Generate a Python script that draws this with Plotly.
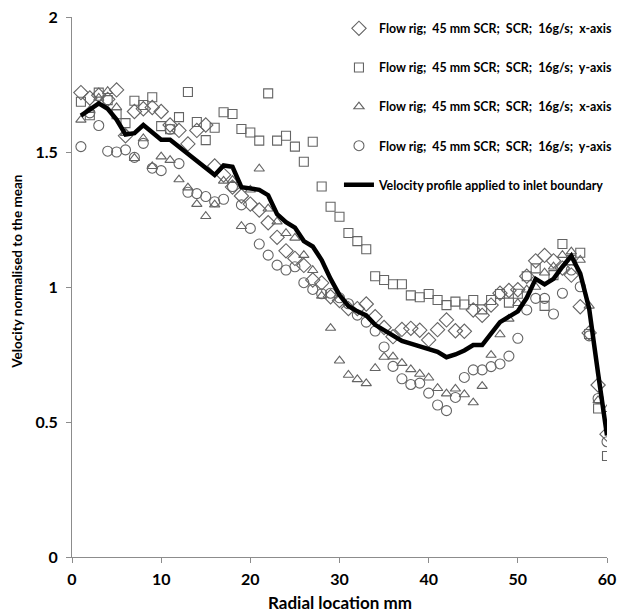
import plotly.graph_objects as go

radial_mm = list(range(1, 61))

diamond_x1 = [1.72, 1.70, 1.71, 1.695, 1.73, 1.56, 1.65, 1.66, 1.665, 1.65,
              1.60, 1.58, 1.53, 1.58, 1.60, 1.448, 1.415, 1.37, 1.337, 1.307,
              1.285, 1.238, 1.184, 1.134, 1.106, 1.08, 1.026, 1.015, 0.964, 0.95,
              0.92, 0.92, 0.937, 0.89, 0.85, 0.816, 0.843, 0.847, 0.84, 0.804,
              0.842, 0.878, 0.838, 0.836, 0.915, 0.895, 0.933, 0.977, 0.987, 0.99,
              1.04, 1.097, 1.117, 1.097, 1.07, 1.044, 0.927, 0.83, 0.637, 0.455]

square_y1 = [1.686, 1.636, 1.72, 1.692, 1.64, 1.607, 1.69, 1.674, 1.703, 1.596,
             1.584, 1.629, 1.722, 1.611, 1.544, 1.59, 1.647, 1.641, 1.585, 1.572,
             1.542, 1.717, 1.542, 1.56, 1.52, 1.464, 1.538, 1.372, 1.297, 1.26,
             1.20, 1.17, 1.14, 1.04, 1.026, 1.01, 1.01, 0.969, 0.962, 0.974,
             0.952, 0.933, 0.946, 0.935, 0.952, 0.917, 0.952, 0.974, 0.942, 0.975,
             1.04, 1.069, 0.93, 1.044, 1.159, 1.10, 1.127, 0.826, 0.55, 0.374]

triangle_x2 = [1.619, 1.655, 1.70, 1.725, 1.665, 1.57, 1.477, 1.55, 1.447, 1.483,
               1.47, 1.398, 1.368, 1.307, 1.262, 1.305, 1.393, 1.396, 1.225, 1.36,
               1.438, 1.29, 1.242, 1.199, 1.182, 1.118, 1.062, 0.967, 0.848, 0.727,
               0.674, 0.658, 0.643, 0.699, 0.741, 0.742, 0.718, 0.695, 0.678, 0.664,
               0.625, 0.605, 0.623, 0.602, 0.572, 0.633, 0.748, 0.824, 0.882, 0.94,
               0.99, 1.00, 1.053, 1.075, 1.118, 1.131, 1.10, 0.93, 0.58, 0.547]

circle_y2 = [1.52, 1.645, 1.598, 1.503, 1.50, 1.508, 1.48, 1.532, 1.44, 1.431,
             1.584, 1.457, 1.351, 1.346, 1.335, 1.316, 1.325, 1.372, 1.304, 1.217,
             1.159, 1.118, 1.081, 1.063, 1.075, 1.016, 0.991, 0.975, 0.977, 0.96,
             0.938, 0.896, 0.87, 0.837, 0.778, 0.706, 0.66, 0.639, 0.644, 0.607,
             0.563, 0.542, 0.591, 0.665, 0.693, 0.693, 0.705, 0.715, 0.744, 0.81,
             0.915, 0.958, 0.958, 0.90, 0.977, 1.063, 1.001, 0.819, 0.587, 0.427]

profile = [1.635, 1.66, 1.68, 1.66, 1.62, 1.565, 1.57, 1.60, 1.57, 1.545,
           1.545, 1.52, 1.49, 1.465, 1.44, 1.415, 1.45, 1.445, 1.37, 1.365,
           1.36, 1.34, 1.27, 1.24, 1.22, 1.17, 1.15, 1.10, 1.03, 0.97,
           0.93, 0.91, 0.895, 0.86, 0.84, 0.82, 0.80, 0.79, 0.78, 0.77,
           0.76, 0.74, 0.75, 0.765, 0.785, 0.785, 0.83, 0.87, 0.89, 0.91,
           0.96, 1.03, 1.01, 1.03, 1.075, 1.115, 1.05, 0.92, 0.68, 0.45]

x_ticks = [0, 10, 20, 30, 40, 50, 60]
y_ticks = [0, 0.5, 1, 1.5, 2]
y_tick_text = ["0", "0.5", "1", "1.5", "2"]

S = "\u00a0"
label_x = f"Flow rig;{S}{S}45 mm SCR;{S}{S}SCR;{S}{S}16g/s;{S}{S}x-axis"
label_y = f"Flow rig;{S}{S}45 mm SCR;{S}{S}SCR;{S}{S}16g/s;{S}{S}y-axis"

series = [
    (label_x, diamond_x1, "diamond-open", 11),
    (label_y, square_y1, "square-open", 9),
    (label_x, triangle_x2, "triangle-up-open", 9),
    (label_y, circle_y2, "circle-open", 10),
]

FONT = "Lato"
gray = "#646464"

fig = go.Figure()
for i, (name, vals, sym, sz) in enumerate(series):
    fig.add_trace(go.Scatter(
        x=radial_mm, y=vals, mode="markers", name=name,
        legendgroup=f"g{i}",
        marker=dict(symbol=sym, size=sz, color=gray, line=dict(color=gray, width=1.1)),
    ))
fig.add_trace(go.Scatter(
    x=radial_mm, y=profile, mode="lines", name="Velocity profile applied to inlet boundary",
    legendgroup="g4", line=dict(color="black", width=4.5),
))

axis_common = dict(
    showgrid=False, zeroline=False, showline=True, linecolor="#8c8c8c", linewidth=1,
    ticks="outside", ticklen=5, tickcolor="#8c8c8c", automargin=False,
    tickfont=dict(family=FONT, size=16, color="black", weight="bold"),
)
fig.update_layout(
    width=620, height=614,
    margin=dict(l=72, r=13, t=17, b=57, autoexpand=False),
    paper_bgcolor="white", plot_bgcolor="white",
    font=dict(family=FONT, color="black"),
    xaxis=dict(range=[0, 60], tickvals=x_ticks, ticklabelstandoff=3, **axis_common),
    yaxis=dict(range=[0, 2], tickvals=y_ticks, ticktext=y_tick_text, ticklabelstandoff=5,
               **axis_common),
    legend=dict(x=0.499, y=1.006, xanchor="left", yanchor="top",
                font=dict(family=FONT, size=12.4, color="black", weight="bold"),
                tracegroupgap=20, bgcolor="rgba(0,0,0,0)"),
    showlegend=True,
    annotations=[
        dict(text="Radial location mm", xref="paper", yref="paper", x=0.501, y=-0.085,
             xanchor="center", yanchor="middle", showarrow=False,
             font=dict(family=FONT, size=17, color="black", weight="bold")),
        dict(text="Velocity normalised to the mean", xref="paper", yref="paper",
             x=-0.103, y=0.528, xanchor="center", yanchor="middle", textangle=-90,
             showarrow=False,
             font=dict(family=FONT, size=13.5, color="black", weight="bold")),
    ],
)

fig.write_html("out.html")
